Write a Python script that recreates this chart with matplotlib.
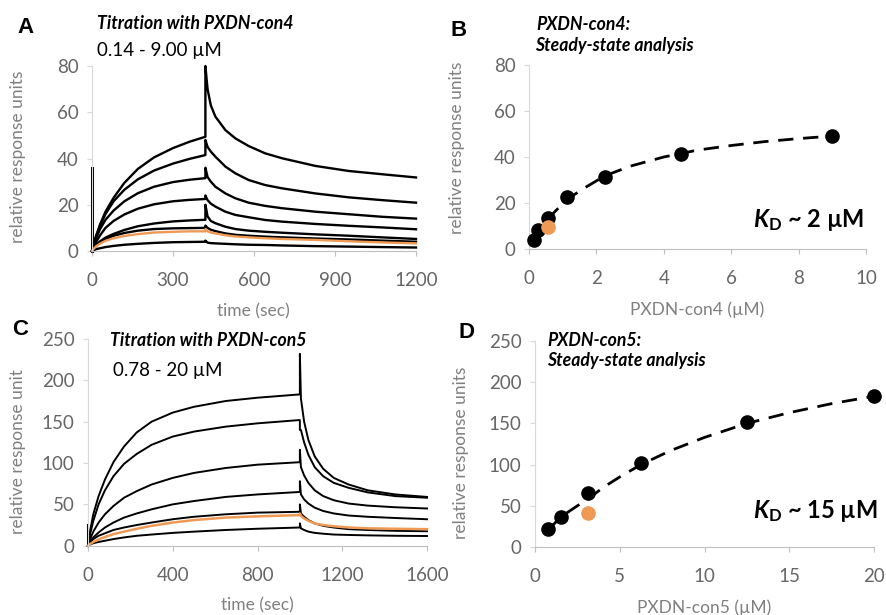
import matplotlib
matplotlib.use("Agg")
import matplotlib.pyplot as plt

plt.rcParams['font.family'] = ['Lato', 'DejaVu Sans']
plt.rcParams['mathtext.fontset'] = 'custom'
plt.rcParams['mathtext.bfit'] = 'Lato:bold:italic'
plt.rcParams['mathtext.bf'] = 'Lato:bold'
plt.rcParams['mathtext.rm'] = 'Lato'
plt.rcParams['mathtext.it'] = 'Lato:italic'

# ---- panel A : sensorgrams PXDN-con4 (0.14 - 9.00 uM) ----
a_assoc_t = [0, 5, 15, 30, 50, 80, 120, 170, 230, 300, 360, 420]
a_dissoc_t = [420, 428, 440, 457, 494, 531, 580, 642, 704, 827, 951, 1074, 1200]
a_assoc = [
    [0, 2.5, 6.5, 11.5, 17.0, 23.0, 29.5, 35.5, 40.5, 44.5, 47.2, 49.4],
    [0, 2.5, 6.3, 11.0, 16.0, 21.5, 26.5, 31.0, 34.8, 37.8, 39.8, 41.5],
    [0, 2.2, 5.5, 9.5, 13.5, 17.5, 21.5, 25.0, 27.8, 29.8, 30.8, 31.5],
    [0, 1.6, 3.8, 6.8, 10.0, 13.0, 15.8, 18.3, 20.2, 21.5, 22.1, 22.5],
    [0, 1.0, 2.5, 4.2, 5.8, 7.4, 9.1, 10.7, 11.9, 12.8, 13.2, 13.5],
    [0, 0.9, 2.3, 3.8, 5.2, 6.6, 7.8, 8.8, 9.5, 9.8, 9.9, 10.0],
    [0, 0.3, 0.8, 1.2, 1.7, 2.2, 2.7, 3.1, 3.5, 3.8, 3.9, 4.0],
]
a_dissoc = [
    [80, 70, 63, 58.1, 52.3, 48.7, 45.4, 42.2, 40.1, 36.8, 34.6, 33.2, 31.8],
    [48, 45, 43, 40.8, 36.5, 33.6, 30.7, 28.5, 27.1, 24.9, 23.2, 22.0, 20.9],
    [36, 32, 30, 27.8, 24.9, 22.8, 20.9, 19.5, 18.5, 17.0, 15.9, 14.8, 14.0],
    [24, 22, 20.5, 19.2, 17.0, 15.6, 14.6, 13.4, 12.7, 11.7, 10.9, 10.2, 9.4],
    [20, 15, 13, 12.0, 10.5, 9.5, 8.8, 8.3, 7.9, 7.2, 6.6, 5.9, 5.2],
    [11, 10, 9.2, 8.6, 7.6, 7.0, 6.6, 6.2, 5.9, 5.4, 5.0, 4.5, 4.0],
    [4.5, 3.6, 3.4, 3.3, 3.1, 2.9, 2.7, 2.6, 2.4, 2.1, 1.9, 1.7, 1.5],
]
a_orange_assoc = [0, 0.8, 2.0, 3.2, 4.4, 5.5, 6.5, 7.3, 8.0, 8.3, 8.5, 8.5]
a_orange_dissoc = [9.5, 8.5, 8.0, 7.6, 6.8, 6.3, 5.9, 5.5, 5.2, 4.8, 4.2, 3.7, 3.3]
a_spike_t = [0, 0]
a_spike = [0, 36]

# ---- panel B : steady state PXDN-con4 ----
b_conc = [0.14, 0.28, 0.5625, 1.125, 2.25, 4.5, 9.0]
b_resp = [4.0, 8.4, 13.3, 22.6, 31.3, 41.5, 49.3]
b_orange_conc = [0.5625]
b_orange_resp = [9.6]
b_fit_x = [0.14, 0.56, 1.125, 1.7, 2.25, 3, 4, 5, 6, 7, 8, 9]
b_fit_y = [3.9, 13.1, 21.6, 27.0, 31.8, 36.0, 40.0, 43.0, 45.0, 46.7, 48.0, 49.1]

# ---- panel C : sensorgrams PXDN-con5 (0.78 - 20 uM) ----
c_assoc_t = [0, 10, 25, 50, 80, 120, 170, 230, 300, 400, 500, 650, 800, 1000]
c_dissoc_t = [1000, 1005, 1020, 1040, 1070, 1110, 1160, 1230, 1320, 1450, 1600]
c_assoc = [
    [0, 18, 38, 60, 80, 101, 120, 137, 150, 161, 168, 175, 179, 183],
    [0, 14, 30, 50, 67, 84, 99, 111, 122, 132, 138, 144, 148, 152],
    [0, 8, 17, 28, 38, 48, 58, 66, 74, 82, 88, 94, 98, 101],
    [0, 5, 10, 16, 22, 28, 34, 39, 44, 50, 54, 59, 62, 65],
    [0, 4, 8, 12, 15, 19, 22, 25, 28, 32, 35, 38, 40, 41],
    [0, 1.5, 3, 4.5, 6, 8, 10, 12, 13.5, 15.5, 17, 19, 20.5, 22],
]
c_dissoc = [
    [232, 178, 150, 128, 108, 93, 82, 74, 67, 62, 59],
    [140, 140, 125, 110, 95, 84, 76, 70, 64.5, 60, 58],
    [116, 95, 85, 76, 67, 60, 55, 51, 48.5, 46.5, 45],
    [78, 62, 56, 51, 46, 42, 39, 36.5, 35, 33.5, 32],
    [50, 39, 35, 31, 27, 24, 22, 20, 19, 18, 17.5],
    [27, 21, 19, 17, 15.5, 14.5, 13.5, 13, 12.5, 12, 11.7],
]
c_orange_assoc = [0, 2, 4.5, 7.5, 10.5, 14, 17, 20.5, 24, 28, 31, 34, 35.5, 37]
c_orange_dissoc = [39, 36, 33, 30, 27, 25, 23.5, 22, 21, 20.5, 20]
c_spike_t = [0, 0]
c_spike = [0, 25]

# ---- panel D : steady state PXDN-con5 ----
d_conc = [0.78, 1.56, 3.125, 6.25, 12.5, 20]
d_resp = [21.5, 36.5, 65.5, 102, 152, 183]
d_orange_conc = [3.125]
d_orange_resp = [41.4]
d_fit_x = [0.78, 1.56, 2.5, 3.125, 4, 5, 6.25, 8, 10, 12.5, 15, 17.5, 20]
d_fit_y = [21, 37, 50, 58, 72, 85, 100, 117, 133, 150, 163, 174, 183]

W, H = 886, 615
ORANGE = '#EE9A55'
TICK = '#666666'
LABEL = '#808080'


def box(l, t, r, b):
    return [l / W, 1 - b / H, (r - l) / W, (b - t) / H]


def ftext(x, y, s, **kw):
    fig.text(x / W, 1 - y / H, s, **kw)


def style(ax, xlim, xt, ylim, yt):
    ax.set_xlim(*xlim)
    ax.set_ylim(*ylim)
    ax.set_xticks(xt)
    ax.set_yticks(yt)
    for s in ['top', 'right']:
        ax.spines[s].set_visible(False)
    ax.spines['left'].set_color('#D9D9D9')
    ax.spines['bottom'].set_color('#BFBFBF')
    ax.tick_params(axis='x', color='#BFBFBF', length=3.6, pad=11.5,
                   labelcolor=TICK, labelsize=13.5)
    ax.tick_params(axis='y', color='#D9D9D9', length=3.6, pad=6,
                   labelcolor=TICK, labelsize=13.5)


fig = plt.figure(figsize=(W / 100, H / 100), dpi=100)

# A
axA = fig.add_axes(box(92, 66, 416, 251))
style(axA, (0, 1200), [0, 300, 600, 900, 1200], (0, 80), [0, 20, 40, 60, 80])
axA.plot(a_spike_t, a_spike, color='black', lw=2.2, clip_on=False)
for ya, yd in zip(a_assoc, a_dissoc):
    axA.plot(a_assoc_t + a_dissoc_t, ya + yd, color='black', lw=1.7, clip_on=False)
axA.plot(a_assoc_t + a_dissoc_t, a_orange_assoc + a_orange_dissoc, color=ORANGE,
         lw=1.7, clip_on=False)

# B
axB = fig.add_axes(box(529, 65, 866, 249))
style(axB, (0, 10), [0, 2, 4, 6, 8, 10], (0, 80), [0, 20, 40, 60, 80])
axB.plot(b_fit_x, b_fit_y, color='black', lw=2, dashes=(5.5, 3.5), zorder=2)
axB.plot(b_conc, b_resp, 'o', color='black', ms=9.5, zorder=3, clip_on=False)
axB.plot(b_orange_conc, b_orange_resp, 'o', color=ORANGE, ms=9.5, zorder=4)

# C
axC = fig.add_axes(box(88, 339, 427, 545.7))
style(axC, (0, 1600), [0, 400, 800, 1200, 1600], (0, 250), [0, 50, 100, 150, 200, 250])
axC.plot(c_spike_t, c_spike, color='black', lw=1.5, clip_on=False)
for ya, yd in zip(c_assoc, c_dissoc):
    axC.plot(c_assoc_t + c_dissoc_t, ya + yd, color='black', lw=1.4, clip_on=False)
axC.plot(c_assoc_t + c_dissoc_t, c_orange_assoc + c_orange_dissoc, color=ORANGE,
         lw=1.8, clip_on=False)

# D
axD = fig.add_axes(box(535, 341, 874, 547))
style(axD, (0, 20), [0, 5, 10, 15, 20], (0, 250), [0, 50, 100, 150, 200, 250])
axD.plot(d_fit_x, d_fit_y, color='black', lw=2, dashes=(5.5, 3.5), zorder=2)
axD.plot(d_conc, d_resp, 'o', color='black', ms=9.5, zorder=3, clip_on=False)
axD.plot(d_orange_conc, d_orange_resp, 'o', color=ORANGE, ms=9.5, zorder=4)

# panel letters
letter = dict(fontsize=16, fontweight='bold', family=['Liberation Sans'],
              va='baseline', ha='left')
ftext(17, 33, 'A', **letter)
ftext(450, 36, 'B', **letter)
ftext(12, 335, 'C', **letter)
ftext(458, 338, 'D', **letter)

# titles
tt = dict(fontsize=12.7, fontweight='bold', style='italic', va='baseline', ha='left')
ftext(97, 29, 'Titration with PXDN-con4', **tt)
ftext(97, 56, '0.14 - 9.00 µM', fontsize=13.5, va='baseline')
ftext(536, 30, 'PXDN-con4:', **tt)
ftext(535, 51, 'Steady-state analysis', **tt)
ftext(110, 346, 'Titration with PXDN-con5', **tt)
ftext(113, 376, '0.78 - 20 µM', fontsize=13.5, va='baseline')
ftext(547, 346, 'PXDN-con5:', **tt)
ftext(547, 366, 'Steady-state analysis', **tt)

# KD annotations
ftext(753, 227, r'$\mathbfit{K}_{\mathbf{D}}$ ~ 2 µM', fontsize=17, fontweight='bold',
      va='baseline')
ftext(753, 518, r'$\mathbfit{K}_{\mathbf{D}}$ ~ 15 µM', fontsize=17, fontweight='bold',
      va='baseline')

# axis labels
lab = dict(fontsize=12.5, color=LABEL, ha='center', va='center')
ftext(253, 311, 'time (sec)', **lab)
ftext(697, 310, 'PXDN-con4 (µM)', **lab)
ftext(257, 605, 'time (sec)', **lab)
ftext(704, 608, 'PXDN-con5 (µM)', **lab)
ftext(18, 157, 'relative response units', rotation=90, **lab)
ftext(457, 148, 'relative response units', rotation=90, **lab)
ftext(18, 452, 'relative response unit', rotation=90, **lab)
ftext(461, 453, 'relative response units', rotation=90, **lab)

fig.savefig('out.png', dpi=100)
